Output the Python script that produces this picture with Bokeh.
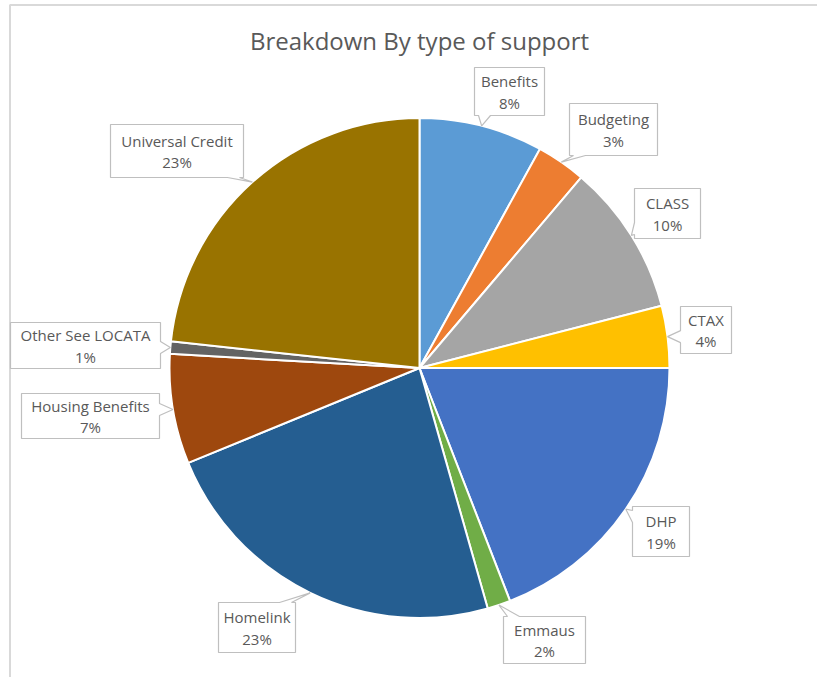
import math
from bokeh.plotting import figure
from bokeh.models import Range1d, ColumnDataSource
from bokeh.core.properties import value
from bokeh.embed import file_html
from bokeh.resources import INLINE

# ---- data ----
categories = ["Benefits", "Budgeting", "CLASS", "CTAX", "DHP", "Emmaus",
              "Homelink", "Housing Benefits", "Other See LOCATA", "Universal Credit"]
shares = [8.0, 3.2, 9.8, 4.0, 19.1, 1.5, 23.2, 7.1, 0.8, 23.3]
pct_labels = ["8%", "3%", "10%", "4%", "19%", "2%", "23%", "7%", "1%", "23%"]
colors = ["#5B9BD5", "#ED7D31", "#A5A5A5", "#FFC000", "#4472C4", "#70AD47",
          "#255E91", "#9E480E", "#636363", "#997300"]

# ---- layout (pixel coordinates, y measured from top of the page) ----
W, H = 817, 677
CX, CY, R = 419, 367.5, 250
label_cx = [509, 613, 667, 705.5, 660.5, 544, 256.5, 90, 85, 176.5]
label_cy = [91, 129, 213, 329.5, 531, 639.5, 627, 415.5, 345, 150.5]
box_w = [70, 88, 66, 51, 57, 82, 77, 138, 150, 133]
box_h = [48, 52, 50, 47, 50, 47, 50, 45, 46, 53]
TXT = "#595959"
FONT = "Open Sans"


def fy(y):
    return H - y


p = figure(width=W, height=H, output_backend="svg", toolbar_location=None,
           x_range=Range1d(0, W), y_range=Range1d(0, H), min_border=0,
           x_axis_location=None, y_axis_location=None)
p.outline_line_color = None
p.grid.visible = False
p.background_fill_color = "white"

# chart area border (cropped at right/bottom)
p.quad(left=[9.5], right=[W + 20], top=[fy(4.5)], bottom=[-20],
       fill_color=None, line_color="#D9D9D9", line_width=2)

# wedges
total = sum(shares)
starts, ends, mids = [], [], []
c = 0.0
for s in shares:
    a0 = c / total
    c += s
    a1 = c / total
    starts.append(math.pi / 2 - 2 * math.pi * a0)
    ends.append(math.pi / 2 - 2 * math.pi * a1)
    mids.append((a0 + a1) / 2)

src = ColumnDataSource(dict(start=starts, end=ends, color=colors))
p.wedge(x=CX, y=fy(CY), radius=R, start_angle="start", end_angle="end",
        direction="clock", fill_color="color", line_color="white",
        line_width=2, source=src)


def callout(cx, cy, w, h, tx, ty):
    l, r, t, b = cx - w / 2, cx + w / 2, cy - h / 2, cy + h / 2
    hw = 6
    if ty > b:
        x0 = min(max(tx, l + 10), r - 10)
        pts = [(l, t), (r, t), (r, b), (x0 + hw, b), (tx, ty), (x0 - hw, b), (l, b)]
    elif ty < t:
        x0 = min(max(tx, l + 10), r - 10)
        pts = [(l, t), (x0 - hw, t), (tx, ty), (x0 + hw, t), (r, t), (r, b), (l, b)]
    elif tx > r:
        y0 = min(max(ty, t + 10), b - 10)
        pts = [(l, t), (r, t), (r, y0 - hw), (tx, ty), (r, y0 + hw), (r, b), (l, b)]
    else:
        y0 = min(max(ty, t + 10), b - 10)
        pts = [(l, t), (r, t), (r, b), (l, b), (l, y0 + hw), (tx, ty), (l, y0 - hw)]
    return [q[0] for q in pts], [fy(q[1]) for q in pts]


xs, ys = [], []
for i in range(len(categories)):
    ang = 2 * math.pi * mids[i]
    tx = CX + R * math.sin(ang)
    ty = CY - R * math.cos(ang)
    px, py = callout(label_cx[i], label_cy[i], box_w[i], box_h[i], tx, ty)
    xs.append(px)
    ys.append(py)

p.patches(xs=xs, ys=ys, fill_color="white", line_color="#BFBFBF", line_width=1.2)

name_y = [fy(y - 10.5) for y in label_cy]
pct_y = [fy(y + 11) for y in label_cy]
p.text(x=label_cx, y=name_y, text=categories, text_align="center",
       text_baseline="middle", text_color=TXT, text_font=value(FONT),
       text_font_size="15px")
p.text(x=label_cx, y=pct_y, text=pct_labels, text_align="center",
       text_baseline="middle", text_color=TXT, text_font=value(FONT),
       text_font_size="15px")

# title
p.text(x=[419], y=[fy(40)], text=["Breakdown By type of support"],
       text_align="center", text_baseline="middle", text_color=TXT,
       text_font=value(FONT), text_font_size="24px")

open("out.html", "w").write(file_html(p, INLINE))
